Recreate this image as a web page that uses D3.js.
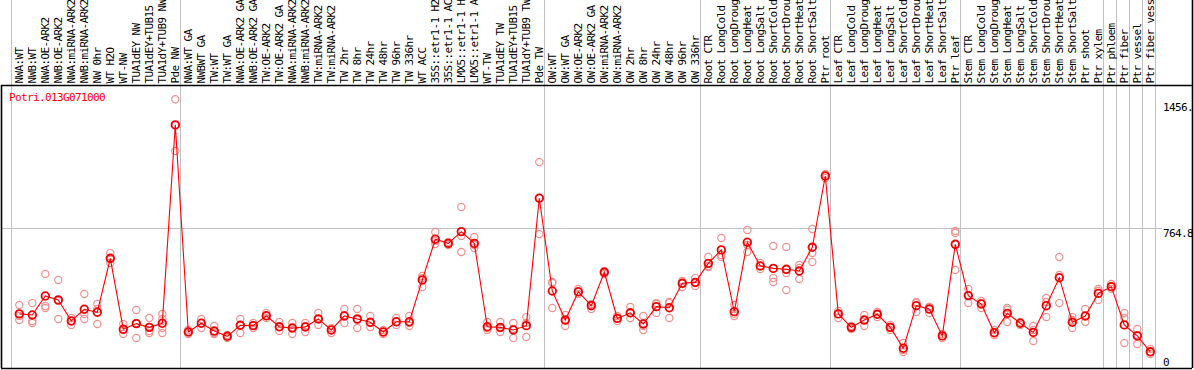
<!DOCTYPE html>
<html>
<head>
<meta charset="utf-8">
<script src="https://cdn.jsdelivr.net/npm/d3@7"></script>
<style>
  body { margin: 0; background: white; }
  svg { display: block; }
  text { font-family: "DejaVu Sans Mono", "Liberation Mono", monospace; font-size: 11px; letter-spacing: -0.62px; }
</style>
</head>
<body>
<svg id="chart" width="1194" height="370"></svg>
<script>
"use strict";

//Gene shown on the chart
var geneName = "Potri.013G071000";

//Sample names, one per column
var samples = [
  "NWA:WT","NWB:WT","NWA:OE-ARK2","NWB:OE-ARK2","NWA:miRNA-ARK2","NWB:miRNA-ARK2",
  "NW 0hr","WT H2O","WT-NW","TUA1dEY NW","TUA1dEY+TUB15 NW","TUA1dY+TUB9 NW","Pde NW",
  "NWA:WT GA","NWBWT GA","TW:WT","TW:WT GA","NWA:OE-ARK2 GA","NWB:OE-ARK2 GA","TW:OE-ARK2",
  "TW:OE-ARK2 GA","NWA:miRNA-ARK2","NWB:miRNA-ARK2","TW:miRNA-ARK2","TW:miRNA-ARK2",
  "TW 2hr","TW 8hr","TW 24hr","TW 48hr","TW 96hr","TW 336hr","WT ACC",
  "35S::etr1-1 H2O","35S::etr1-1 ACC","LMX5::etr1-1 H2O","LMX5::etr1-1 ACC",
  "WT-TW","TUA1dEY TW","TUA1dEY+TUB15 TW","TUA1dY+TUB9 TW","Pde TW",
  "OW:WT","OW:WT GA","OW:OE-ARK2","OW:OE-ARK2 GA","OW:miRNA-ARK2","OW:miRNA-ARK2",
  "OW 2hr","OW 8hr","OW 24hr","OW 48hr","OW 96hr","OW 336hr",
  "Root CTR","Root LongCold","Root LongDrought","Root LongHeat","Root LongSalt",
  "Root ShortCold","Root ShortDrought","Root ShortHeat","Root ShortSalt","Ptr root",
  "Leaf CTR","Leaf LongCold","Leaf LongDrought","Leaf LongHeat","Leaf LongSalt",
  "Leaf ShortCold","Leaf ShortDrought","Leaf ShortHeat","Leaf ShortSalt","Ptr leaf",
  "Stem CTR","Stem LongCold","Stem LongDrought","Stem LongHeat","Stem LongSalt",
  "Stem ShortCold","Stem ShortDrought","Stem ShortHeat","Stem ShortSalt","Ptr shoot",
  "Ptr xylem","Ptr phloem","Ptr fiber","Ptr vessel","Ptr fiber vessel"
];

//Mean expression for each sample
var means = [
  306,300,402,381,268,331,315,604,224,254,234,256,1319,
  209,256,214,186,245,243,296,237,230,236,279,220,295,279,261,209,264,264,488,
  706,684,747,684,237,234,220,243,926,
  429,273,425,350,529,282,312,252,345,339,470,475,
  577,649,318,690,563,550,545,536,663,1045,
  306,234,273,304,234,122,350,332,188,679,
  404,359,205,309,256,207,350,500,261,295,
  416,452,247,188,103
];

//Replicate values for each sample
var replicates = [
  [354,295,273],[364,268,257],[520,348,338],[488,375,279],[284,268,247],[413,306,279],
  [359,332,252],[632,600,579],[252,220,198],[327,257,177],[284,214,204],[306,279,230,204],
  [1456.8,1319,1179],
  [220,209,198],[279,257,230],[241,204,198],[193,188,177],[279,247,204],[257,247,230],
  [311,295,284],[263,236,214],[257,236,198],[257,241,209],[311,279,247],[230,220,204],
  [332,300,257],[332,273,230],[295,257,236],[220,209,198],[284,263,247],[295,257,241],
  [509,498,450],[745,697,681],[691,686,675],[879,724,638],[718,675,659],[263,230,220],
  [263,230,209],[257,225,177],[289,257,182],[1120,927,734],
  [477,472,338],[300,273,241],[440,423,413],[359,354,332],[536,531,520],[295,284,268],
  [343,311,284],[295,241,220],[364,359,311],[370,364,284],[482,472,450],[498,472,456],
  [611,563,557],[713,622,611],[354,306,295],[756,675,638],[579,563,547],[670,498,477],
  [665,525,434],[568,552,493],[761,632,584],[1056,1045,1034],
  [322,306,284],[241,236,225],[300,273,241],[316,306,289],[247,236,220],[150,113,102],
  [370,364,316],[343,343,311],[198,188,177],[750,740,541],
  [440,407,364],[375,364,338],[220,204,193],[338,327,263],[263,257,247],[241,220,161],
  [391,370,289],[611,515,364],[289,273,230],[332,295,263],
  [440,429,381],[466,450,440],[311,284,150],[225,193,145],[118,102,91]
];

//Columns after which a group separator is drawn (-1 is the left edge)
var groupEnds = [-1, 12, 40, 52, 62, 72, 83, 84, 85, 86, 87];

//Y axis: top of the scale, and the values written on the right
var yMax = 1529.6;
var yTicks = [0, 764.8, 1456.8];
var yTickLabels = ["0", "764.8", "1456.8"];

//The header only has room for this many characters
var maxChars = 14;

var svg = d3.select("#chart"),
    width = +svg.attr("width"),
    height = +svg.attr("height"),
    headerBottom = 85,
    plotBottom = 368,
    rightEdge = 1192;

var idx = d3.range(samples.length);

var x = d3.scalePoint()
    .domain(idx)
    .range([19.3, 1150.3]);

var y = d3.scaleLinear()
    .domain([0, yMax])
    .range([371, 85.6]);

var step = x.step();

//x position of the separator that follows column d
function sepX(d) {
  return Math.round((d < 0 ? x(0) - step : x(d)) + step * 0.38) + 0.5;
}

svg.append("rect")
    .attr("width", width)
    .attr("height", height)
    .attr("fill", "white");

//Group separators
svg.append("g")
  .selectAll("line")
  .data(groupEnds)
  .enter().append("line")
    .attr("x1", sepX)
    .attr("x2", sepX)
    .attr("y1", 0)
    .attr("y2", plotBottom)
    .attr("stroke", "#c0c0c0")
    .attr("stroke-width", 1);

//Horizontal grid line at the middle tick
svg.append("line")
    .attr("x1", 2)
    .attr("x2", 1162)
    .attr("y1", Math.round(y(yTicks[1])) + 0.5)
    .attr("y2", Math.round(y(yTicks[1])) + 0.5)
    .attr("stroke", "#c0c0c0")
    .attr("stroke-width", 1);

//Sample names, written bottom to top
svg.append("g")
  .selectAll("text")
  .data(idx)
  .enter().append("text")
    .attr("transform", function(d) { return "translate(" + x(d) + "," + (headerBottom - 1.5) + ") rotate(-90)"; })
    .attr("dy", "0.36em")
    .attr("fill", "#000")
    .text(function(d) { return samples[d].slice(0, maxChars); });

//Frame
svg.append("line")
    .attr("x1", 1).attr("x2", rightEdge)
    .attr("y1", headerBottom + 0.5).attr("y2", headerBottom + 0.5)
    .attr("stroke", "#000").attr("stroke-width", 1.6);
svg.append("line")
    .attr("x1", 1).attr("x2", rightEdge)
    .attr("y1", plotBottom + 0.5).attr("y2", plotBottom + 0.5)
    .attr("stroke", "#000").attr("stroke-width", 1.6);
svg.append("line")
    .attr("x1", 1.5).attr("x2", 1.5)
    .attr("y1", headerBottom).attr("y2", plotBottom)
    .attr("stroke", "#000").attr("stroke-width", 1.6);
svg.append("line")
    .attr("x1", rightEdge + 0.5).attr("x2", rightEdge + 0.5)
    .attr("y1", 0).attr("y2", plotBottom)
    .attr("stroke", "#000").attr("stroke-width", 1.6);

//Y tick labels on the right, cut by the frame
svg.append("clipPath")
    .attr("id", "axisClip")
  .append("rect")
    .attr("x", 0).attr("y", 0)
    .attr("width", rightEdge).attr("height", height);

svg.append("g")
    .attr("clip-path", "url(#axisClip)")
  .selectAll("text")
  .data(yTicks)
  .enter().append("text")
    .attr("x", 1163)
    .attr("y", function(d) { return Math.max(headerBottom + 26, Math.min(y(d) + 8.5, plotBottom - 2)); })
    .attr("fill", "#000")
    .text(function(d, i) { return yTickLabels[i]; });

//Replicates
var reps = [];
replicates.forEach(function(r, i) {
  r.forEach(function(v) { reps.push({i: i, v: v}); });
});

svg.append("g")
  .selectAll("circle")
  .data(reps)
  .enter().append("circle")
    .attr("cx", function(d) { return x(d.i); })
    .attr("cy", function(d) { return y(d.v); })
    .attr("r", 3.6)
    .attr("fill", "none")
    .attr("stroke", "#ee9090")
    .attr("stroke-width", 1.2);

//Line through the means
var line = d3.line()
    .x(function(d, i) { return x(i); })
    .y(function(d) { return y(d); });

svg.append("path")
    .datum(means)
    .attr("d", line)
    .attr("fill", "none")
    .attr("stroke", "#ff0000")
    .attr("stroke-width", 1.1);

//Mean markers
svg.append("g")
  .selectAll("circle")
  .data(means)
  .enter().append("circle")
    .attr("cx", function(d, i) { return x(i); })
    .attr("cy", function(d) { return y(d); })
    .attr("r", 3.8)
    .attr("fill", "none")
    .attr("stroke", "#ee0000")
    .attr("stroke-width", 1.8);

//Gene name
svg.append("text")
    .attr("x", 9)
    .attr("y", 101)
    .attr("fill", "#ff0000")
    .text(geneName);
</script>
</body>
</html>
